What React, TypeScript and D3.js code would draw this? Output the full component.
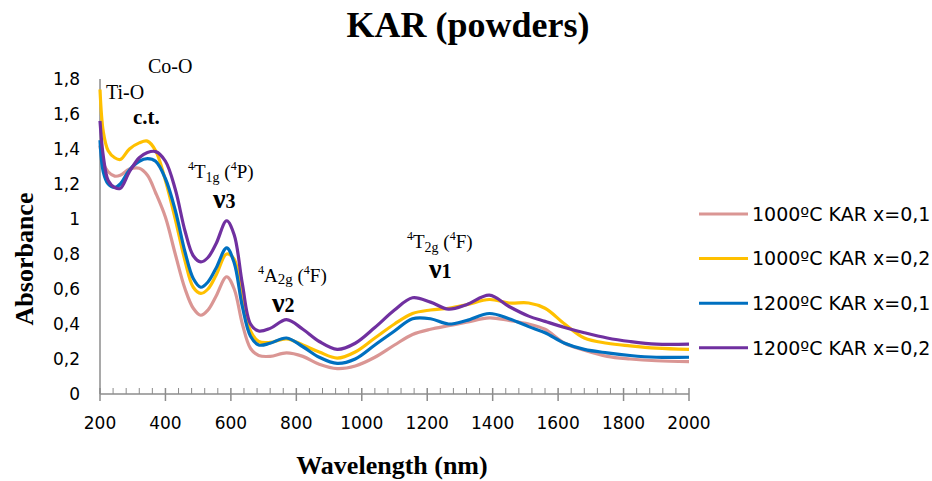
import React from 'react';
import * as d3 from 'd3';

const wavelengths = [200, 210, 225, 245, 262, 290, 320, 345, 370, 400, 430, 460, 485, 508, 530, 555, 587, 610, 635, 660, 685, 720, 770, 820, 870, 925, 980, 1040, 1100, 1155, 1210, 1265, 1320, 1390, 1450, 1510, 1560, 1620, 1680, 1750, 1820, 1900, 2000];

const kar1000x01 = [1.42, 1.32, 1.27, 1.245, 1.25, 1.285, 1.29, 1.25, 1.15, 1.01, 0.8, 0.6, 0.49, 0.45, 0.48, 0.56, 0.67, 0.6, 0.4, 0.26, 0.22, 0.215, 0.235, 0.215, 0.17, 0.145, 0.16, 0.21, 0.28, 0.34, 0.37, 0.39, 0.41, 0.435, 0.42, 0.4, 0.37, 0.29, 0.25, 0.215, 0.2, 0.19, 0.185];
const kar1000x02 = [1.74, 1.5, 1.39, 1.35, 1.34, 1.4, 1.435, 1.445, 1.39, 1.22, 1.0, 0.76, 0.61, 0.575, 0.6, 0.68, 0.8, 0.77, 0.55, 0.36, 0.3, 0.295, 0.315, 0.28, 0.24, 0.205, 0.24, 0.32, 0.4, 0.46, 0.48, 0.49, 0.51, 0.54, 0.52, 0.52, 0.49, 0.4, 0.32, 0.29, 0.275, 0.262, 0.255];
const kar1200x01 = [1.45, 1.27, 1.2, 1.18, 1.2, 1.28, 1.33, 1.345, 1.33, 1.23, 1.05, 0.81, 0.66, 0.61, 0.64, 0.72, 0.835, 0.75, 0.5, 0.33, 0.28, 0.29, 0.32, 0.27, 0.21, 0.175, 0.2, 0.28, 0.36, 0.43, 0.43, 0.4, 0.42, 0.46, 0.43, 0.385, 0.35, 0.29, 0.255, 0.235, 0.22, 0.21, 0.21];
const kar1200x02 = [1.56, 1.36, 1.22, 1.18, 1.175, 1.27, 1.35, 1.38, 1.385, 1.33, 1.17, 0.93, 0.79, 0.755, 0.78, 0.86, 0.99, 0.91, 0.63, 0.4, 0.36, 0.375, 0.425, 0.37, 0.3, 0.255, 0.29, 0.38, 0.48, 0.55, 0.525, 0.485, 0.51, 0.565, 0.5, 0.445, 0.415, 0.38, 0.35, 0.32, 0.3, 0.285, 0.285];

const seriesNames = ['1000ºC KAR x=0,1', '1000ºC KAR x=0,2', '1200ºC KAR x=0,1', '1200ºC KAR x=0,2'];
const seriesColors = ['#DA9694', '#FFC000', '#0070C0', '#7030A0'];
const seriesValues = [kar1000x01, kar1000x02, kar1200x01, kar1200x02];

const xTicks = [200, 400, 600, 800, 1000, 1200, 1400, 1600, 1800, 2000];
const yTicks = [0, 0.2, 0.4, 0.6, 0.8, 1, 1.2, 1.4, 1.6, 1.8];

const W = 932;
const H = 481;

export default function App() {
  const x = d3.scaleLinear().domain([200, 2000]).range([100, 689]);
  const y = d3.scaleLinear().domain([0, 1.8]).range([394, 79]);
  const line = d3
    .line<[number, number]>()
    .x((d) => x(d[0]))
    .y((d) => y(d[1]))
    .curve(d3.curveCatmullRom.alpha(0.5));

  const minor = d3.range(200, 2001, 40).filter((v) => !xTicks.includes(v));
  const fmt = (v: number) => String(Math.round(v * 10) / 10).replace('.', ',');
  const axisColor = '#8c8c8c';
  const sans = 'DejaVu Sans, Verdana, sans-serif';
  const serif = 'Liberation Serif, Times New Roman, serif';

  return (
    <svg width={W} height={H} style={{ position: 'absolute', left: 0, top: 0, background: '#fff' }}>
      <rect x={0} y={0} width={W} height={H} fill="#fff" />
      <text x={468} y={37} textAnchor="middle" fontFamily={serif} fontWeight="bold" fontSize={36} fill="#000">
        KAR (powders)
      </text>

      {/* axes */}
      <line x1={x(200)} x2={x(200)} y1={y(1.8)} y2={y(0)} stroke={axisColor} strokeWidth={1.5} />
      <line x1={x(200)} x2={x(2000)} y1={y(0)} y2={y(0)} stroke={axisColor} strokeWidth={1.5} />
      {xTicks.map((t) => (
        <line key={'M' + t} x1={x(t)} x2={x(t)} y1={y(0) - 6} y2={y(0) + 7} stroke={axisColor} strokeWidth={1.5} />
      ))}
      {minor.map((t) => (
        <line key={'m' + t} x1={x(t)} x2={x(t)} y1={y(0) - 6} y2={y(0)} stroke={axisColor} strokeWidth={1} />
      ))}
      {xTicks.map((t) => (
        <text key={'xl' + t} x={x(t)} y={429} textAnchor="middle" fontFamily={sans} fontSize={17} fill="#000">
          {t}
        </text>
      ))}
      {yTicks.map((t) => (
        <text key={'yl' + t} x={80} y={y(t)} dy="0.36em" textAnchor="end" fontFamily={sans} fontSize={17} fill="#000">
          {fmt(t)}
        </text>
      ))}

      <text x={392} y={474} textAnchor="middle" fontFamily={serif} fontWeight="bold" fontSize={26} fill="#000">
        Wavelength (nm)
      </text>
      <text
        transform={`translate(33,259) rotate(-90)`}
        textAnchor="middle"
        fontFamily={serif}
        fontWeight="bold"
        fontSize={26}
        fill="#000"
      >
        Absorbance
      </text>

      {/* series */}
      {seriesValues.map((vals, i) => (
        <path
          key={seriesNames[i]}
          d={line(wavelengths.map((w, j) => [w, vals[j]] as [number, number])) || ''}
          fill="none"
          stroke={seriesColors[i]}
          strokeWidth={3.2}
          strokeLinejoin="round"
        />
      ))}

      {/* annotations */}
      <text x={148} y={73} fontFamily={serif} fontSize={20} fill="#000">Co-O</text>
      <text x={106} y={99} fontFamily={serif} fontSize={20} fill="#000">Ti-O</text>
      <text x={133} y={124} fontFamily={serif} fontSize={21} fontWeight="bold" fill="#000">c.t.</text>

      <text x={188} y={178} fontFamily={serif} fontSize={19} fill="#000">
        <tspan fontSize={12} dy={-8}>4</tspan>
        <tspan dy={8}>T</tspan>
        <tspan fontSize={14} dy={4}>1g</tspan>
        <tspan dy={-4}> (</tspan>
        <tspan fontSize={12} dy={-8}>4</tspan>
        <tspan dy={8}>P)</tspan>
      </text>
      <text x={213} y={208} fontFamily={serif} fontWeight="bold" fill="#000">
        <tspan fontSize={28}>ν</tspan>
        <tspan fontSize={20}>3</tspan>
      </text>

      <text x={258} y={282} fontFamily={serif} fontSize={19} fill="#000">
        <tspan fontSize={12} dy={-8}>4</tspan>
        <tspan dy={8}>A</tspan>
        <tspan fontSize={15} dy={2}>2g</tspan>
        <tspan dy={-2}> (</tspan>
        <tspan fontSize={12} dy={-8}>4</tspan>
        <tspan dy={8}>F)</tspan>
      </text>
      <text x={272} y={312} fontFamily={serif} fontWeight="bold" fill="#000">
        <tspan fontSize={28}>ν</tspan>
        <tspan fontSize={20}>2</tspan>
      </text>

      <text x={407} y={248} fontFamily={serif} fontSize={19} fill="#000">
        <tspan fontSize={12} dy={-8}>4</tspan>
        <tspan dy={8}>T</tspan>
        <tspan fontSize={14} dy={4}>2g</tspan>
        <tspan dy={-4}> (</tspan>
        <tspan fontSize={12} dy={-8}>4</tspan>
        <tspan dy={8}>F)</tspan>
      </text>
      <text x={429} y={278} fontFamily={serif} fontWeight="bold" fill="#000">
        <tspan fontSize={28}>ν</tspan>
        <tspan fontSize={20}>1</tspan>
      </text>

      {/* legend */}
      {seriesNames.map((name, i) => {
        const ly = 214 + i * 44.6;
        return (
          <g key={'lg' + name}>
            <line x1={699} x2={748} y1={ly} y2={ly} stroke={seriesColors[i]} strokeWidth={3} />
            <text x={752} y={ly} dy="0.36em" fontFamily={sans} fontSize={19} fill="#000">
              {name}
            </text>
          </g>
        );
      })}
    </svg>
  );
}
